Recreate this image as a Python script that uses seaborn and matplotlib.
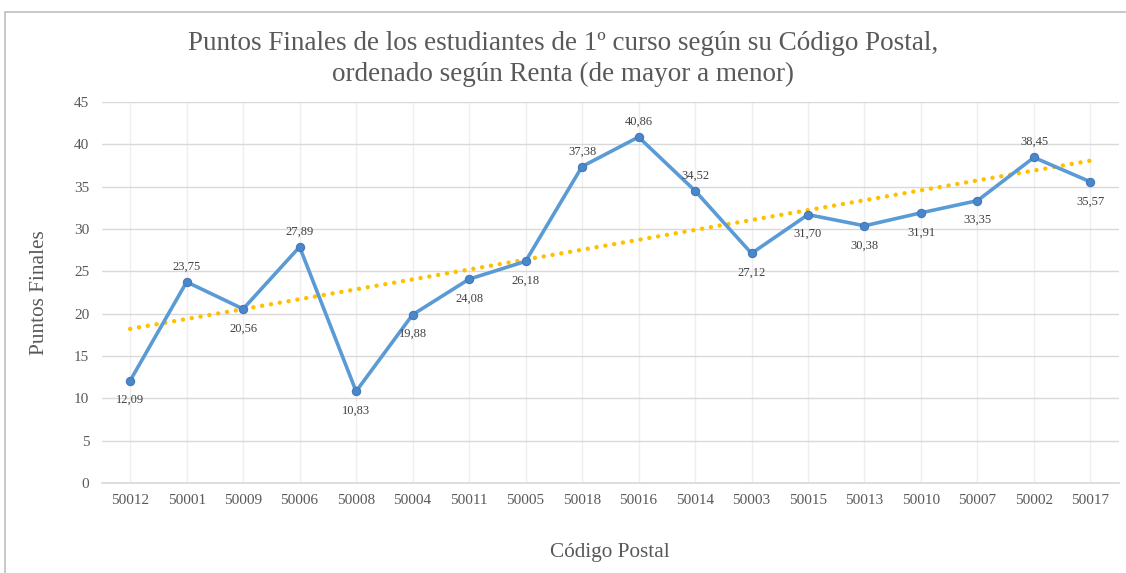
import numpy as np
import seaborn as sns
import matplotlib.pyplot as plt
from matplotlib.patches import Rectangle

codigos = ['50012', '50001', '50009', '50006', '50008', '50004', '50011', '50005', '50018',
           '50016', '50014', '50003', '50015', '50013', '50010', '50007', '50002', '50017']
puntos = [12.09, 23.75, 20.56, 27.89, 10.83, 19.88, 24.08, 26.18, 37.38,
          40.86, 34.52, 27.12, 31.70, 30.38, 31.91, 33.35, 38.45, 35.57]
# donde va cada etiqueta de dato (arriba / abajo), como en el original
lado = ['b', 'a', 'b', 'a', 'b', 'b', 'b', 'b', 'a',
        'a', 'a', 'b', 'b', 'b', 'b', 'b', 'a', 'b']

sns.set_theme(style='white')
plt.rcParams['font.family'] = ['Liberation Serif', 'DejaVu Serif']

fig = plt.figure(figsize=(11.26, 5.73), dpi=100)
ax = fig.add_axes([0.0905, 0.157, 0.903, 0.665])

pos = np.arange(len(codigos))

# Linea de tendencia (lineal)
sns.regplot(x=pos, y=puntos, ax=ax, scatter=False, ci=None, truncate=True,
            line_kws=dict(color='#FFC000', lw=3.2, linestyle=(0, (0.01, 2.0)),
                          dash_capstyle='round', zorder=2))

sns.lineplot(x=pos, y=puntos, ax=ax, color='#5B9BD5', lw=2.6, marker='o', markersize=6,
             markerfacecolor='#4A86C8', markeredgecolor='#3F76BD', zorder=3)

for i, v in enumerate(puntos):
    off = 11 if lado[i] == 'a' else -14
    ax.annotate(f'{v:.2f}'.replace('.', ','), (i, v), xytext=(0, off), textcoords='offset points',
                ha='center', va='center', fontsize=9, color='#404040')

ax.set_xlim(-0.5, len(codigos) - 0.5)
ax.set_ylim(0, 45)
ax.set_yticks(range(0, 46, 5))
ax.set_xticks(pos)
ax.set_xticklabels(codigos)
ax.tick_params(axis='both', length=0, labelsize=11, labelcolor='#595959')
ax.tick_params(axis='x', pad=8)
ax.tick_params(axis='y', pad=9)

ax.grid(axis='y', color='#D9D9D9', lw=1)
for i in pos:
    ax.axvline(i, color='#EEEEEE', lw=1, zorder=0)
for s in ['top', 'right', 'left']:
    ax.spines[s].set_visible(False)
ax.spines['bottom'].set_color('#D9D9D9')

ax.set_xlabel('Código Postal', fontsize=15.3, color='#595959')
ax.set_ylabel('Puntos Finales', fontsize=15.3, color='#595959')
ax.xaxis.set_label_coords(0.5, -0.158)
ax.yaxis.set_label_coords(-0.052, 0.5)

fig.text(0.5, 0.946, 'Puntos Finales de los estudiantes de 1º curso según su Código Postal,\n'
         'ordenado según Renta (de mayor a menor)', ha='center', va='top',
         fontsize=19.5, color='#595959', linespacing=1.3)

# marco del grafico
fig.patches.append(Rectangle((5 / 1126, -0.05), 1.2, 1 - 12 / 573 + 0.05,
                             transform=fig.transFigure, fill=False, edgecolor='#BFBFBF', lw=1.2))

fig.savefig('out.png', dpi=100)
